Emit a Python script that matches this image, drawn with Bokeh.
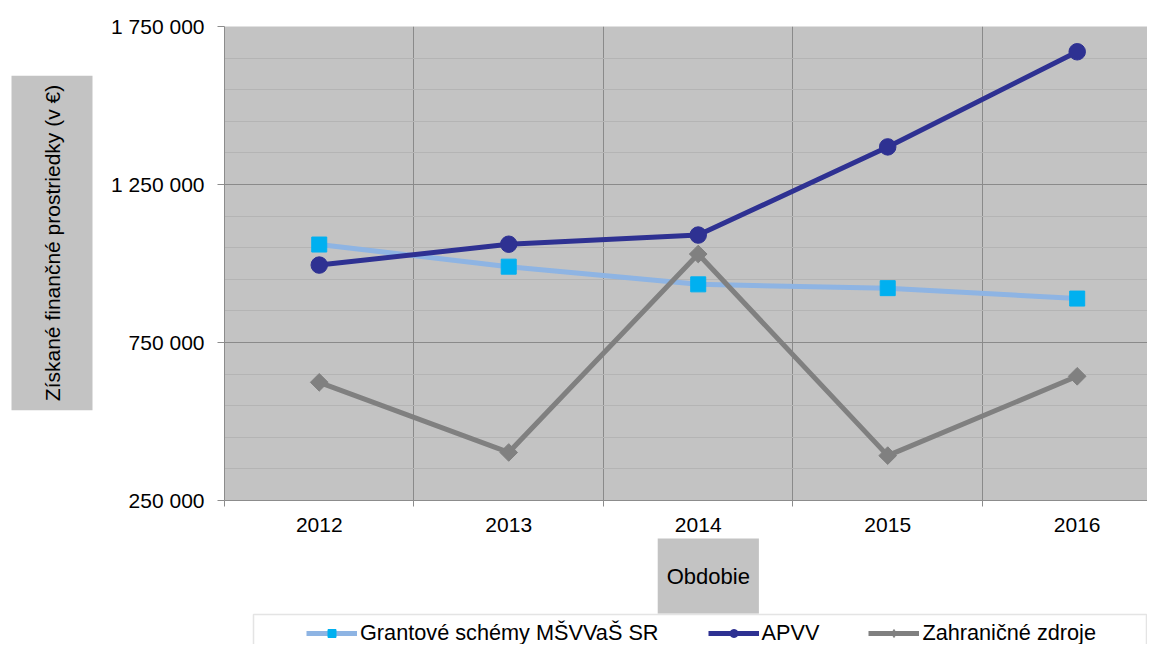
from bokeh.plotting import figure
from bokeh.layouts import column, row
from bokeh.models import FixedTicker, Label, Legend, LegendItem, BoxAnnotation, Range1d
from bokeh.embed import file_html
from bokeh.resources import INLINE
import math

# ---- data ----
years = ["2012", "2013", "2014", "2015", "2016"]
grantove = [1060000, 990000, 934000, 922000, 889000]
apvv = [995000, 1061000, 1090000, 1369000, 1670000]
zahranicne = [624000, 402000, 1030000, 392000, 643000]
series_names = ["Grantové schémy MŠVVaŠ SR", "APVV", "Zahraničné zdroje"]
y_ticks = [250000, 750000, 1250000, 1750000]
y_tick_labels = ["250 000", "750 000", "1 250 000", "1 750 000"]
y_title = "Získané finančné prostriedky (v €)"
x_title = "Obdobie"

FONT = "Liberation Sans"
FS = "21px"
BG = "#C3C3C3"
AXC = "#8c8c8c"
x = list(range(1, len(years) + 1))

styles = [
    dict(line_color="#8EB4E3", marker="square", size=15, mcolor="#00B0F0", angle=0,
         leg_marker="square"),
    dict(line_color="#2E3192", marker="circle", size=16.5, mcolor="#2E3192", angle=0,
         leg_marker="circle"),
    dict(line_color="#808080", marker="square", size=12.5, mcolor="#808080", angle=math.pi / 4,
         leg_marker="diamond"),
]
series = [grantove, apvv, zahranicne]


def blank_fig(w, h):
    f = figure(width=w, height=h, output_backend="svg", toolbar_location=None,
               x_range=Range1d(-20, -19), y_range=Range1d(-20, -19),
               x_axis_location=None, y_axis_location=None,
               min_border_left=0, min_border_right=0, min_border_top=0, min_border_bottom=0)
    f.outline_line_color = None
    f.background_fill_color = "white"
    f.border_fill_color = "white"
    for g in f.grid:
        g.visible = False
        g.grid_line_color = None
    return f


# ---- y title panel ----
yt = blank_fig(100, 537)
yt.add_layout(Label(x=51.5, y=257.5, x_units="screen", y_units="screen", text=y_title,
                    angle=90, angle_units="deg", text_align="center", text_baseline="middle",
                    text_font=FONT, text_font_size=FS, text_color="black",
                    background_fill_color=BG,
                    padding=dict(left=9, right=9, top=29, bottom=29)))

# ---- main chart ----
p = figure(width=1047, height=537, output_backend="svg", toolbar_location=None,
           x_range=Range1d(0.5, 5.371), y_range=Range1d(250000, 1750000),
           min_border_left=124, min_border_right=0, min_border_top=26,
           min_border_bottom=37)
p.background_fill_color = BG
p.border_fill_color = "white"
p.outline_line_color = None

yax = p.yaxis[0]
yax.ticker = FixedTicker(ticks=y_ticks,
                         minor_ticks=[v for v in range(350000, 1750000, 100000) if v not in y_ticks])
yax.major_label_overrides = dict(zip(y_ticks, y_tick_labels))
yax.major_tick_in = 0
yax.major_tick_out = 7
yax.minor_tick_in = 0
yax.minor_tick_out = 0
yax.major_label_standoff = 13
yax.axis_line_color = AXC
yax.major_tick_line_color = AXC
yax.major_label_text_font = FONT
yax.major_label_text_font_size = FS
yax.major_label_text_color = "black"

xax = p.xaxis[0]
xax.ticker = FixedTicker(ticks=x, minor_ticks=[i + 0.5 for i in range(0, len(years) + 1)])
xax.major_label_overrides = {i: yv for i, yv in zip(x, years)}
xax.major_tick_in = 0
xax.major_tick_out = 0
xax.minor_tick_in = 0
xax.minor_tick_out = 6
xax.major_label_standoff = 11
xax.axis_line_color = AXC
xax.minor_tick_line_color = AXC
xax.major_label_text_font = FONT
xax.major_label_text_font_size = FS
xax.major_label_text_color = "black"

p.xgrid.grid_line_color = None
p.xgrid.minor_grid_line_color = "#8a8a8a"
p.ygrid.grid_line_color = "#8a8a8a"
p.ygrid.minor_grid_line_color = "#b4b4b4"

for vals, st in zip(series, styles):
    p.line(x, vals, line_color=st["line_color"], line_width=5, line_join="round")
    p.scatter(x, vals, marker=st["marker"], size=st["size"], angle=st["angle"],
              fill_color=st["mcolor"], line_color=st["mcolor"])

# ---- bottom panel: x title + legend ----
lf = blank_fig(1147, 107)
lf.add_layout(Label(x=707.8, y=68.5, x_units="screen", y_units="screen", text=x_title,
                    text_align="center", text_baseline="middle",
                    text_font=FONT, text_font_size="22px", text_color="black",
                    background_fill_color=BG,
                    padding=dict(left=9, right=9, top=25, bottom=25)))
lf.add_layout(BoxAnnotation(left=253, right=1146, top=30, bottom=-20,
                            left_units="screen", right_units="screen",
                            top_units="screen", bottom_units="screen",
                            fill_color="white", fill_alpha=1.0,
                            line_color="#a6a6a6", line_width=1.5))
items = []
for name, vals, st in zip(series_names, series, styles):
    # legend sample renderers: same data, placed outside this panel's visible range
    rl = lf.line(x, vals, line_color=st["line_color"], line_width=5)
    rm = lf.scatter(x, vals, marker=st["leg_marker"], size=st["size"],
                    fill_color=st["mcolor"], line_color=st["mcolor"])
    items.append(LegendItem(label=name, renderers=[rl, rm]))
legend = Legend(items=items, orientation="horizontal", location=(306, -2), padding=0, margin=0,
                spacing=49, glyph_width=51, glyph_height=20, label_standoff=3,
                border_line_alpha=0, background_fill_alpha=0,
                label_text_font=FONT, label_text_font_size="21.7px", label_text_color="black")
lf.add_layout(legend)

layout = column(row(yt, p), lf)
open("out.html", "w").write(file_html(layout, INLINE))
